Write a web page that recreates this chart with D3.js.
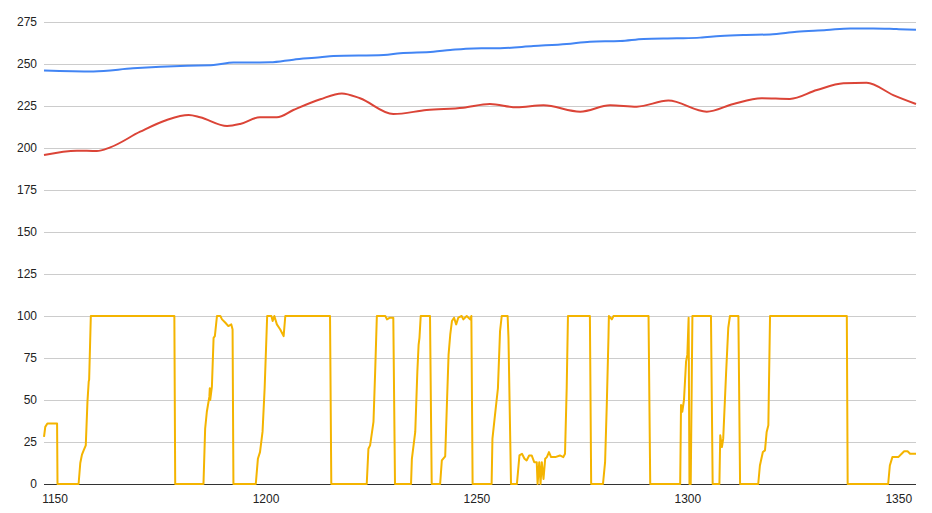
<!DOCTYPE html>
<html>
<head>
<meta charset="utf-8">
<script src="https://cdn.jsdelivr.net/npm/d3@7"></script>
<style>
  html, body { margin: 0; padding: 0; background: #fff; }
  svg { display: block; font-family: "Liberation Sans", Arial, sans-serif; }
</style>
</head>
<body>
<svg id="chart" width="932" height="513"></svg>
<script>
// ---- data ----
const xTicks = [1150, 1200, 1250, 1300, 1350];
const yTicks = [0, 25, 50, 75, 100, 125, 150, 175, 200, 225, 250, 275];
const xDomain = [1147.5, 1354.2];

const blueX = [1147.5, 1159.2, 1168.6, 1181.4, 1187.7, 1192.4, 1201.1, 1206.6, 1213.0, 1216.1, 1228.0, 1231.9, 1239.8, 1243.8, 1249.3, 1255.6, 1263.5, 1271.4, 1276.9, 1284.1, 1289.6, 1297.5, 1303.0, 1307.8, 1313.3, 1319.6, 1325.9, 1333.0, 1338.6, 1344.1, 1349.6, 1354.2];
const blueY = [246.2, 245.6, 247.4, 249.0, 249.4, 250.9, 251.0, 252.6, 254.0, 254.8, 255.4, 256.4, 257.3, 258.3, 259.3, 259.4, 260.7, 261.9, 263.3, 263.7, 264.9, 265.3, 265.7, 266.7, 267.3, 267.6, 269.2, 270.2, 271.2, 271.2, 270.8, 270.4];

const redX = [1147.5, 1155.3, 1160.0, 1163.2, 1170.3, 1176.6, 1181.8, 1184.5, 1190.9, 1194.0, 1198.7, 1202.7, 1206.6, 1213.0, 1218.1, 1222.4, 1230.3, 1238.2, 1246.9, 1253.2, 1259.6, 1265.9, 1274.6, 1281.7, 1288.0, 1295.5, 1304.6, 1310.9, 1317.6, 1324.3, 1330.7, 1337.0, 1342.5, 1348.8, 1354.2];
const redY = [195.8, 198.4, 198.2, 200.4, 209.7, 216.7, 219.6, 218.3, 213.1, 214.3, 218.3, 218.3, 222.6, 229.0, 232.5, 229.6, 220.2, 222.6, 224.0, 226.2, 224.2, 225.4, 221.6, 225.4, 224.6, 228.2, 221.6, 226.2, 229.6, 229.2, 234.5, 238.5, 238.9, 231.5, 226.2];

const yellowX = [1147.5, 1147.8, 1148.3, 1150.6, 1150.7, 1155.7, 1156.1, 1156.5, 1156.9, 1157.4, 1157.8, 1158.1, 1158.2, 1158.6, 1178.4, 1178.6,
  1185.3, 1185.7, 1186.1, 1186.7, 1186.8, 1186.9, 1187.3, 1187.7, 1188.0, 1188.5, 1189.3, 1189.7, 1190.5, 1191.2, 1191.9, 1192.2, 1192.4,
  1197.7, 1198.2, 1198.7, 1199.3, 1199.8, 1200.4, 1201.4, 1201.7, 1202.1, 1202.7, 1203.5, 1204.3, 1204.7, 1215.3, 1215.6,
  1224.0, 1224.4, 1224.8, 1225.2, 1225.6, 1226.0, 1226.4, 1228.4, 1228.8, 1229.5, 1230.3, 1230.7,
  1234.5, 1234.7, 1235.5, 1236.0, 1236.3, 1236.5, 1236.8, 1239.0, 1239.4,
  1241.4, 1241.8, 1242.6, 1243.0, 1243.4, 1243.8, 1244.2, 1244.7, 1245.2, 1245.7, 1246.5, 1246.9, 1247.7, 1248.5, 1248.8, 1249.1,
  1253.6, 1253.8, 1254.4, 1255.1, 1255.6, 1256.0, 1257.4, 1257.6, 1258.2,
  1259.6, 1260.2, 1260.8, 1261.4, 1261.9, 1262.5, 1263.1, 1263.7, 1264.3, 1264.5, 1264.9, 1265.2, 1265.5, 1265.9, 1266.3, 1266.7, 1267.2, 1267.7, 1268.7, 1269.8, 1270.6, 1271.0, 1271.4, 1271.7, 1276.9, 1277.2,
  1280.0, 1280.5, 1280.9, 1281.3, 1281.4, 1282.1, 1282.5, 1290.8, 1291.2,
  1298.3, 1298.5, 1298.8, 1299.2, 1299.7, 1300.0, 1300.3, 1300.5, 1300.8, 1301.2, 1305.6, 1306.0,
  1307.6, 1307.8, 1308.2, 1308.5, 1309.2, 1309.7, 1310.1, 1312.1, 1312.5,
  1316.8, 1317.2, 1317.9, 1318.4, 1318.8, 1319.2, 1319.6, 1337.8, 1338.0,
  1347.6, 1348.0, 1348.6, 1350.0, 1350.8, 1351.4, 1352.2, 1352.8, 1354.2];
const yellowY = [28, 34, 36, 36, 0, 0, 12.5, 17.5, 20, 23, 49, 61, 62, 100, 100, 0,
  0, 33, 43, 52, 57, 50, 58, 87, 88, 100, 100, 98, 96, 94, 95, 92, 0,
  0, 15, 19, 31, 57, 100, 100, 97, 100, 95, 92, 88, 100, 100, 0,
  0, 21, 23, 30, 37, 67, 100, 100, 98, 99, 99, 0,
  0, 15, 31, 67, 83, 87, 100, 100, 0,
  0, 14, 16.5, 47, 77, 89, 97, 99, 95, 99, 100, 98, 100, 98, 100, 0,
  0, 27, 41, 57, 91, 100, 100, 87, 0,
  0, 17, 18, 15, 14, 17, 17, 13, 13, 0, 13, 0, 13, 3, 15, 16, 19, 16, 16, 17, 16, 18, 57, 100, 100, 0,
  0, 13, 47, 87, 100, 98, 100, 100, 0,
  0, 47, 43, 50, 73, 77, 99, 0, 0, 100, 100, 0,
  0, 29, 22, 27, 67, 93, 100, 100, 0,
  0, 11, 19, 20, 31, 35, 100, 100, 0,
  0, 11, 16, 16, 18, 19.5, 19.5, 18, 18];

// ---- layout ----
const W = 932, H = 513;
const mLeft = 44, mRight = 916, mTop = 22, mBottom = 484;
const svg = d3.select("#chart");

const x = d3.scaleLinear().domain(xDomain).range([mLeft, mRight]);
const y = d3.scaleLinear().domain([0, 275]).range([mBottom, mTop]);

// gridlines
const yAxis = d3.axisLeft(y).tickValues(yTicks).tickSize(-(mRight - mLeft)).tickPadding(7);
const gy = svg.append("g").attr("transform", `translate(${mLeft},0)`).call(yAxis);
gy.select(".domain").remove();
gy.selectAll(".tick line").attr("stroke", "#cccccc").attr("stroke-width", 1)
  .attr("shape-rendering", "crispEdges");
gy.selectAll(".tick text").attr("fill", "#222").attr("font-size", 12)
  .attr("font-family", "'Liberation Sans', Arial, sans-serif");

const xAxis = d3.axisBottom(x).tickValues(xTicks).tickSize(0).tickPadding(10).tickFormat(d3.format("d"));
const gx = svg.append("g").attr("transform", `translate(0,${mBottom})`).call(xAxis);
gx.select(".domain").remove();
gx.selectAll(".tick text").attr("fill", "#222").attr("font-size", 12)
  .attr("font-family", "'Liberation Sans', Arial, sans-serif");

// baseline
svg.append("line").attr("x1", mLeft).attr("x2", mRight).attr("y1", y(0)).attr("y2", y(0))
  .attr("stroke", "#333").attr("stroke-width", 1).attr("shape-rendering", "crispEdges");

function series(xs, ys) { return xs.map((v, i) => [v, ys[i]]); }

const linLine = d3.line().x(d => x(d[0])).y(d => y(d[1]));
const smoothLine = d3.line().x(d => x(d[0])).y(d => y(d[1])).curve(d3.curveMonotoneX);

svg.append("path").datum(series(blueX, blueY)).attr("d", smoothLine)
  .attr("fill", "none").attr("stroke", "#4285F4").attr("stroke-width", 2);
svg.append("path").datum(series(redX, redY)).attr("d", smoothLine)
  .attr("fill", "none").attr("stroke", "#DB4437").attr("stroke-width", 2);
svg.append("path").datum(series(yellowX, yellowY)).attr("d", linLine)
  .attr("fill", "none").attr("stroke", "#F4B400").attr("stroke-width", 2)
  .attr("stroke-linejoin", "round");
</script>
</body>
</html>
